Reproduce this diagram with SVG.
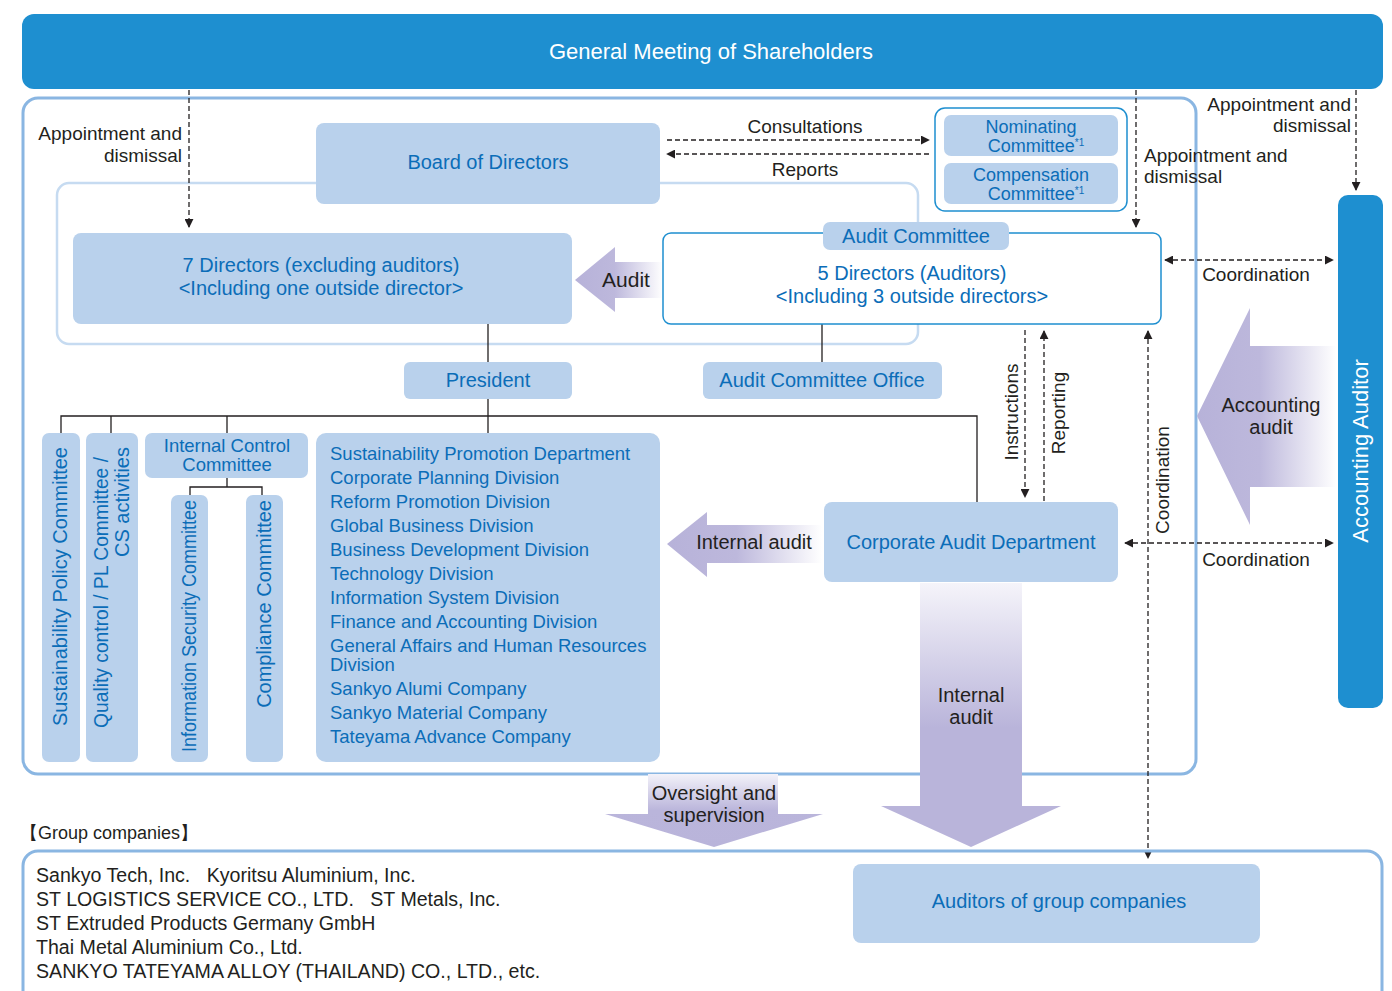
<svg xmlns="http://www.w3.org/2000/svg" width="1392" height="991" viewBox="0 0 1392 991">
  <defs>
    <style>
      .box { fill: #b9d1ec; }
      .bt { font-family: "Liberation Sans", Arial, sans-serif; font-size: 20px; fill: #0b6db8; }
      .lst { font-size: 18.5px; }
      .cm { font-size: 18px; }
      .dk { font-family: "Liberation Sans", Arial, sans-serif; font-size: 19px; fill: #231f20; }
      .ar { font-size: 20px; }
      .wt { font-family: "Liberation Sans", Arial, sans-serif; font-size: 22px; fill: #ffffff; }
      .mid { text-anchor: middle; }
      .dash { fill: none; stroke: #231f20; stroke-width: 1.3; stroke-dasharray: 5 3; }
      .solid { fill: none; stroke: #231f20; stroke-width: 1.3; }
      .frame { fill: none; stroke: #8ab6e2; stroke-width: 3; }
    </style>
    <marker id="ah" viewBox="0 0 10 10" refX="9" refY="5" markerWidth="9" markerHeight="9" markerUnits="userSpaceOnUse" orient="auto-start-reverse">
      <path d="M0,0 L10,5 L0,10 z" fill="#231f20"/>
    </marker>
    <linearGradient id="gLeft" x1="0" y1="0" x2="1" y2="0">
      <stop offset="0" stop-color="#b7b2d9"/>
      <stop offset="0.45" stop-color="#bdb8dc"/>
      <stop offset="1" stop-color="#ffffff"/>
    </linearGradient>
    <linearGradient id="gDown" x1="0" y1="0" x2="0" y2="1">
      <stop offset="0" stop-color="#f5f4fa"/>
      <stop offset="0.55" stop-color="#b9b4da"/>
      <stop offset="1" stop-color="#b9b4da"/>
    </linearGradient>
    <linearGradient id="gDown2" x1="0" y1="0" x2="0" y2="1">
      <stop offset="0" stop-color="#f3f2f9"/>
      <stop offset="0.5" stop-color="#bab5db"/>
      <stop offset="1" stop-color="#b9b4da"/>
    </linearGradient>
  </defs>

  <!-- top bar -->
  <g id="shareholders">
    <rect x="22" y="14" width="1361" height="75" rx="12" fill="#1e8fd0"/>
    <text class="wt mid" x="711" y="59">General Meeting of Shareholders</text>
  </g>

  <!-- company frame -->
  <rect class="frame" x="23" y="98" width="1173" height="676" rx="15"/>
  <!-- board frame -->
  <rect x="57" y="183" width="861" height="161" rx="12" fill="none" stroke="#c6dbf1" stroke-width="2.5"/>

  <!-- wide arrows -->
  <g id="arrows-wide">
    <path d="M575,280 L615,247 L615,262 L663,262 L663,298 L615,298 L615,312 Z" fill="url(#gLeft)"/>
    <path d="M1197,416 L1250,308 L1250,346 L1336,346 L1336,487 L1250,487 L1250,525 Z" fill="url(#gLeft)"/>
    <path d="M667,544 L707,512 L707,525 L822,525 L822,563 L707,563 L707,577 Z" fill="url(#gLeft)"/>
    <path d="M920,583 L1022,583 L1022,806 L1061,806 L971,847 L881,806 L920,806 Z" fill="url(#gDown)"/>
    <path d="M648,774 L778,774 L778,814 L823,814 L714,847 L605,814 L648,814 Z" fill="url(#gDown2)"/>
  </g>

  <!-- connectors -->
  <g id="connectors">
    <path class="dash" d="M189,90 V227" marker-end="url(#ah)"/>
    <path class="dash" d="M1136,90 V227" marker-end="url(#ah)"/>
    <path class="dash" d="M1356,90 V190" marker-end="url(#ah)"/>
    <path class="dash" d="M667,140 H929" marker-end="url(#ah)"/>
    <path class="dash" d="M929,154 H667" marker-end="url(#ah)"/>
    <path class="dash" d="M1165,260 H1333" marker-start="url(#ah)" marker-end="url(#ah)"/>
    <path class="dash" d="M1125,543 H1333" marker-start="url(#ah)" marker-end="url(#ah)"/>
    <path class="dash" d="M1025,330 V497" marker-end="url(#ah)"/>
    <path class="dash" d="M1044,501 V331" marker-end="url(#ah)"/>
    <path class="dash" d="M1148,331 V858" marker-start="url(#ah)" marker-end="url(#ah)"/>
    <path class="solid" d="M488,324 V362"/>
    <path class="solid" d="M822,324 V362"/>
    <path class="solid" d="M488,399 V433"/>
    <path class="solid" d="M61,433 V416 H977 V502"/>
    <path class="solid" d="M111,416 V433"/>
    <path class="solid" d="M227,416 V433"/>
    <path class="solid" d="M227,478 V487 M190,495 V487 H262 V495"/>
  </g>

  <!-- connector labels -->
  <g id="labels">
    <text class="dk" x="182" y="140" text-anchor="end">Appointment and</text>
    <text class="dk" x="182" y="162" text-anchor="end">dismissal</text>
    <text class="dk mid" x="805" y="133">Consultations</text>
    <text class="dk mid" x="805" y="176">Reports</text>
    <text class="dk" x="1144" y="162">Appointment and</text>
    <text class="dk" x="1144" y="183">dismissal</text>
    <text class="dk" x="1351" y="111" text-anchor="end">Appointment and</text>
    <text class="dk" x="1351" y="132" text-anchor="end">dismissal</text>
    <text class="dk mid" x="1256" y="281">Coordination</text>
    <text class="dk mid" x="1256" y="566">Coordination</text>
    <text class="dk mid" transform="translate(1018,412) rotate(-90)">Instructions</text>
    <text class="dk mid" transform="translate(1065,413) rotate(-90)">Reporting</text>
    <text class="dk mid" transform="translate(1169,480) rotate(-90)">Coordination</text>
    <text class="dk mid" x="626" y="287" style="font-size:21px">Audit</text>
    <text class="dk mid ar" x="1271" y="412">Accounting</text>
    <text class="dk mid ar" x="1271" y="434">audit</text>
    <text class="dk mid ar" x="754" y="549">Internal audit</text>
    <text class="dk mid ar" x="971" y="702">Internal</text>
    <text class="dk mid ar" x="971" y="724">audit</text>
    <text class="dk mid ar" x="714" y="800">Oversight and</text>
    <text class="dk mid ar" x="714" y="822">supervision</text>
  </g>

  <g id="board">
    <rect class="box" x="316" y="123" width="344" height="81" rx="8"/>
    <text class="bt mid" x="488" y="169">Board of Directors</text>
  </g>

  <g id="directors">
    <rect class="box" x="73" y="233" width="499" height="91" rx="8"/>
    <text class="bt mid" x="321" y="272">7 Directors (excluding auditors)</text>
    <text class="bt mid" x="321" y="295">&lt;Including one outside director&gt;</text>
  </g>

  <g id="committees">
    <rect x="935" y="108" width="192" height="103" rx="10" fill="#ffffff" stroke="#1e8fd0" stroke-width="1.5"/>
    <rect class="box" x="944" y="115" width="174" height="41" rx="7"/>
    <rect class="box" x="944" y="163" width="174" height="41" rx="7"/>
    <text class="bt mid cm" x="1031" y="133">Nominating</text>
    <text class="bt mid cm" x="1036" y="152">Committee<tspan style="font-size:10px" dy="-6">*1</tspan></text>
    <text class="bt mid cm" x="1031" y="181">Compensation</text>
    <text class="bt mid cm" x="1036" y="200">Committee<tspan style="font-size:10px" dy="-6">*1</tspan></text>
  </g>

  <g id="audit-committee">
    <rect x="663" y="233" width="498" height="91" rx="8" fill="#ffffff" stroke="#1e8fd0" stroke-width="1.5"/>
    <rect class="box" x="823" y="222" width="186" height="28" rx="7"/>
    <text class="bt mid" x="916" y="243">Audit Committee</text>
    <text class="bt mid" x="912" y="280">5 Directors (Auditors)</text>
    <text class="bt mid" x="912" y="303">&lt;Including 3 outside directors&gt;</text>
  </g>

  <g id="accounting-auditor">
    <rect x="1338" y="195" width="45" height="513" rx="10" fill="#1e8fd0"/>
    <text class="wt mid" transform="translate(1368,451) rotate(-90)">Accounting Auditor</text>
  </g>

  <g id="president">
    <rect class="box" x="404" y="362" width="168" height="37" rx="6"/>
    <text class="bt mid" x="488" y="387">President</text>
  </g>

  <g id="audit-office">
    <rect class="box" x="703" y="362" width="239" height="37" rx="6"/>
    <text class="bt mid" x="822" y="387">Audit Committee Office</text>
  </g>

  <g id="sustainability-committee">
    <rect class="box" x="42" y="433" width="38" height="329" rx="7"/>
    <text class="bt" text-anchor="end" transform="translate(67,447) rotate(-90)">Sustainability Policy Committee</text>
  </g>

  <g id="quality-committee">
    <rect class="box" x="86" y="433" width="52" height="329" rx="7"/>
    <text class="bt" text-anchor="end" textLength="271" lengthAdjust="spacingAndGlyphs" transform="translate(108,457) rotate(-90)">Quality control / PL Committee /</text>
    <text class="bt" text-anchor="end" transform="translate(129,447) rotate(-90)">CS activities</text>
  </g>

  <g id="internal-control">
    <rect class="box" x="145" y="433" width="163" height="45" rx="7"/>
    <text class="bt mid lst" x="227" y="452">Internal Control</text>
    <text class="bt mid lst" x="227" y="471">Committee</text>
  </g>

  <g id="info-security">
    <rect class="box" x="171" y="495" width="37" height="267" rx="7"/>
    <text class="bt" text-anchor="end" textLength="252" lengthAdjust="spacingAndGlyphs" transform="translate(196,500) rotate(-90)">Information Security Committee</text>
  </g>

  <g id="compliance">
    <rect class="box" x="246" y="495" width="37" height="267" rx="7"/>
    <text class="bt" text-anchor="end" transform="translate(271,500) rotate(-90)">Compliance Committee</text>
  </g>

  <g id="divisions">
    <rect class="box" x="316" y="433" width="344" height="329" rx="10"/>
    <g class="bt lst">
      <text x="330" y="460">Sustainability Promotion Department</text>
      <text x="330" y="484">Corporate Planning Division</text>
      <text x="330" y="508">Reform Promotion Division</text>
      <text x="330" y="532">Global Business Division</text>
      <text x="330" y="556">Business Development Division</text>
      <text x="330" y="580">Technology Division</text>
      <text x="330" y="604">Information System Division</text>
      <text x="330" y="628">Finance and Accounting Division</text>
      <text x="330" y="652">General Affairs and Human Resources</text>
      <text x="330" y="671">Division</text>
      <text x="330" y="695">Sankyo Alumi Company</text>
      <text x="330" y="719">Sankyo Material Company</text>
      <text x="330" y="743">Tateyama Advance Company</text>
    </g>
  </g>

  <g id="corporate-audit">
    <rect class="box" x="824" y="502" width="294" height="80" rx="8"/>
    <text class="bt mid" x="971" y="549">Corporate Audit Department</text>
  </g>

  <g id="group-companies">
    <text class="dk" x="20" y="839" style="font-size:18px">【Group companies】</text>
    <rect class="frame" x="23" y="851" width="1359" height="170" rx="15"/>
    <g class="dk" style="font-size:19.6px">
      <text x="36" y="882" xml:space="preserve">Sankyo Tech, Inc.   Kyoritsu Aluminium, Inc.</text>
      <text x="36" y="906" xml:space="preserve">ST LOGISTICS SERVICE CO., LTD.   ST Metals, Inc.</text>
      <text x="36" y="930">ST Extruded Products Germany GmbH</text>
      <text x="36" y="954">Thai Metal Aluminium Co., Ltd.</text>
      <text x="36" y="978">SANKYO TATEYAMA ALLOY (THAILAND) CO., LTD., etc.</text>
    </g>
  </g>

  <g id="group-auditors">
    <rect class="box" x="853" y="864" width="407" height="79" rx="8"/>
    <text class="bt mid" x="1059" y="908">Auditors of group companies</text>
  </g>
</svg>
